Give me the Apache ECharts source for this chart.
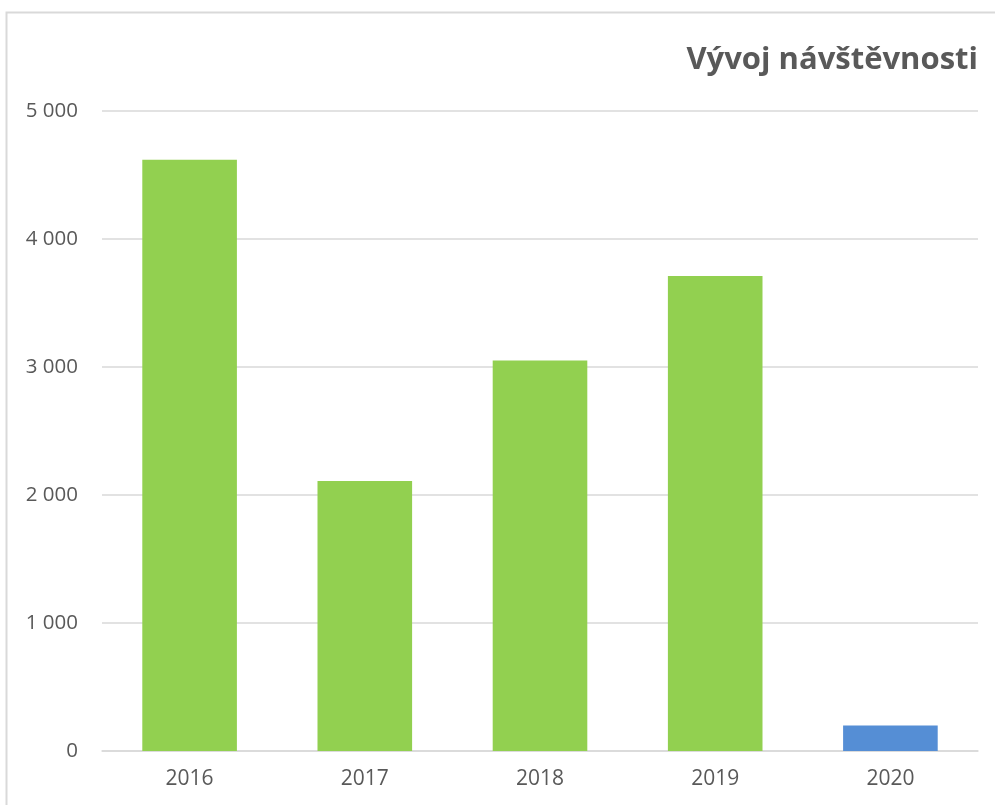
<!DOCTYPE html>
<html><head><meta charset="utf-8">
<script src="https://cdn.jsdelivr.net/npm/echarts@6/dist/echarts.min.js"></script>
<style>html,body{margin:0;padding:0;background:#fff}#c{width:995px;height:805px}</style>
</head><body><div id="c"></div>
<script>
const title = 'Vývoj návštěvnosti';
const categories = ['2016', '2017', '2018', '2019', '2020'];
const values = [4620, 2110, 3050, 3710, 200];
const barColors = ['#92D050', '#92D050', '#92D050', '#92D050', '#558ED5'];
const yTicks = [0, 1000, 2000, 3000, 4000, 5000];

const chart = echarts.init(document.getElementById('c'));
chart.setOption({
  animation: false,
  backgroundColor: '#fff',
  graphic: [{
    type: 'rect', shape: { x: 6.5, y: 12.5, width: 1100, height: 1000 },
    style: { fill: 'none', stroke: '#D9D9D9', lineWidth: 2 }, silent: true
  }],
  title: {
    text: title, right: 12, top: 40,
    textStyle: { fontFamily: 'Open Sans', fontWeight: 'bold', fontSize: 31, color: '#595959' }
  },
  grid: { left: 102, right: 17, top: 111, bottom: 54 },
  xAxis: {
    type: 'category', data: categories,
    axisLine: { lineStyle: { color: '#D9D9D9', width: 1.5 } },
    axisTick: { show: false },
    axisLabel: { color: '#595959', fontFamily: 'Open Sans', fontSize: 21, margin: 18 }
  },
  yAxis: {
    type: 'value', min: yTicks[0], max: yTicks[yTicks.length - 1], interval: 1000,
    axisLine: { show: false }, axisTick: { show: false },
    splitLine: { lineStyle: { color: '#D9D9D9', width: 1.5 } },
    axisLabel: {
      color: '#595959', fontFamily: 'Open Sans', fontSize: 20.5, margin: 24,
      formatter: v => String(v).replace(/\B(?=(\d{3})+(?!\d))/g, ' ')
    }
  },
  series: [{
    type: 'bar', barWidth: '54%',
    data: values.map((v, i) => ({ value: v, itemStyle: { color: barColors[i] } }))
  }]
});
</script></body></html>
